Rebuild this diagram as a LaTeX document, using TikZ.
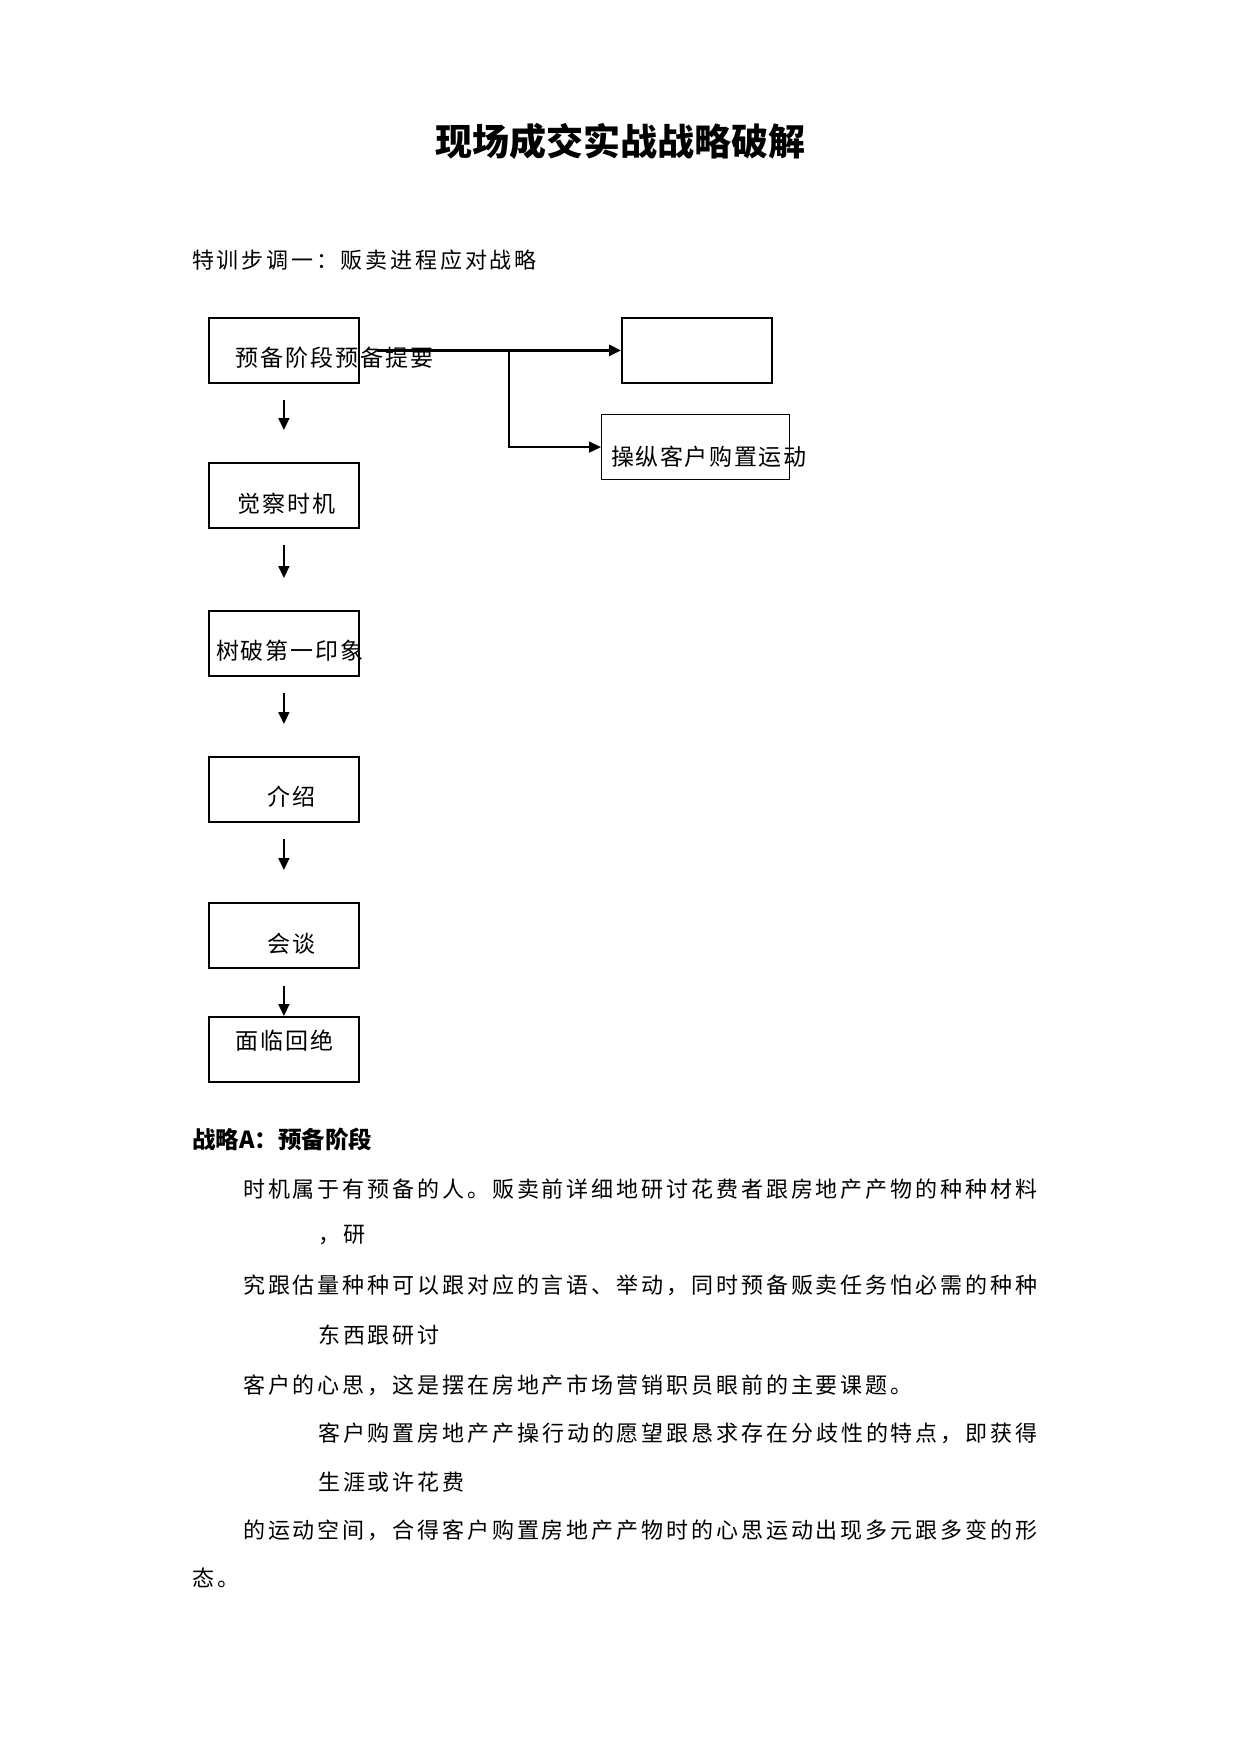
\documentclass[tikz,border=0pt]{standalone}
\usepackage{fontspec}
\setmainfont{Noto Sans CJK SC}
\usetikzlibrary{arrows.meta}
\ExplSyntaxOn
\NewDocumentCommand\spaced{mm}{\tl_map_inline:nn {#2} {\makebox[#1][l]{##1}}}
\ExplSyntaxOff
\begin{document}
\begin{tikzpicture}[x=1pt,y=-1pt,
  box/.style={draw,line width=1.8pt,minimum width=150pt,minimum height=65pt,inner sep=0pt,anchor=north west},
  lbl/.style={inner sep=0pt,anchor=west,font=\fontsize{23}{23}\selectfont},
  body/.style={inner sep=0pt,anchor=west,font=\fontsize{22}{22}\selectfont},
  head/.style={inner sep=0pt,anchor=west,font=\fontsize{23.5}{23.5}\selectfont\bfseries},
  tip/.style={-{Triangle[length=12pt,width=11pt]}},
  arr/.style={line width=1.8pt,tip},
]
\useasboundingbox (0,0) rectangle (1241,1754);
\fill[white] (0,0) rectangle (1241,1754);

\node[inner sep=0pt,font=\fontsize{37}{37}\selectfont\bfseries] (title) at (620,141) {现场成交实战战略破解};
\node[body] (sub) at (192,260) {\spaced{24.8pt}{特训步调一：贩卖进程应对战略}};

\node[box] (b1) at (208,317) {};
\node[box] (b2) at (208,462) {};
\node[box] (b3) at (208,610) {};
\node[box] (b4) at (208,756) {};
\node[box] (b5) at (208,902) {};
\node[box] (b6) at (208,1016) {};
\node[box] (tr) at (621,317) {};
\node[box,line width=1.2pt,minimum width=188pt] (op) at (601,414) {};

\node[lbl] (t1) at (235,358) {\spaced{25pt}{预备阶段预备提要}};
\node[lbl] (t2) at (237,504) {\spaced{25pt}{觉察时机}};
\node[lbl] (t3) at (216,651) {\spaced{24.8pt}{树破第一印象}};
\node[lbl] (t4) at (267,797) {\spaced{25pt}{介绍}};
\node[lbl] (t5) at (267,944) {\spaced{25pt}{会谈}};
\node[lbl] (t6) at (235,1041) {\spaced{25pt}{面临回绝}};
\node[lbl] (t7) at (611,457) {\spaced{24.6pt}{操纵客户购置运动}};

\draw[arr,shorten <=16pt,shorten >=32pt] (b1.south) -- (b2.north);
\draw[arr,shorten <=16pt,shorten >=32pt] (b2.south) -- (b3.north);
\draw[arr,shorten <=16pt,shorten >=32pt] (b3.south) -- (b4.north);
\draw[arr,shorten <=16pt,shorten >=32pt] (b4.south) -- (b5.north);
\draw[arr,shorten <=17pt] (b5.south) -- (b6.north);

\draw[line width=2.8pt,tip,shorten <=17pt] (b1.east) -- (tr.west);
\coordinate (br) at (509,349);
\draw[line width=1.5pt,tip] (br) |- (op.west);

\node[head] (hA) at (192,1139) {战略A：预备阶段};
\node[body] (p1) at (243,1189) {\spaced{24.9pt}{时机属于有预备的人。贩卖前详细地研讨花费者跟房地产产物的种种材料}};
\node[body] (p2) at (318,1235) {\spaced{24.9pt}{，研}};
\node[body] (p3) at (243,1285) {\spaced{24.9pt}{究跟估量种种可以跟对应的言语、举动，同时预备贩卖任务怕必需的种种}};
\node[body] (p4) at (318,1335) {\spaced{24.9pt}{东西跟研讨}};
\node[body] (p5) at (243,1385) {\spaced{24.9pt}{客户的心思，这是摆在房地产市场营销职员眼前的主要课题。}};
\node[body] (p6) at (318,1433) {\spaced{24.9pt}{客户购置房地产产操行动的愿望跟恳求存在分歧性的特点，即获得}};
\node[body] (p7) at (318,1482) {\spaced{24.9pt}{生涯或许花费}};
\node[body] (p8) at (243,1530) {\spaced{24.9pt}{的运动空间，合得客户购置房地产产物时的心思运动出现多元跟多变的形}};
\node[body] (p9) at (192,1578) {\spaced{24.9pt}{态。}};
\end{tikzpicture}
\end{document}
